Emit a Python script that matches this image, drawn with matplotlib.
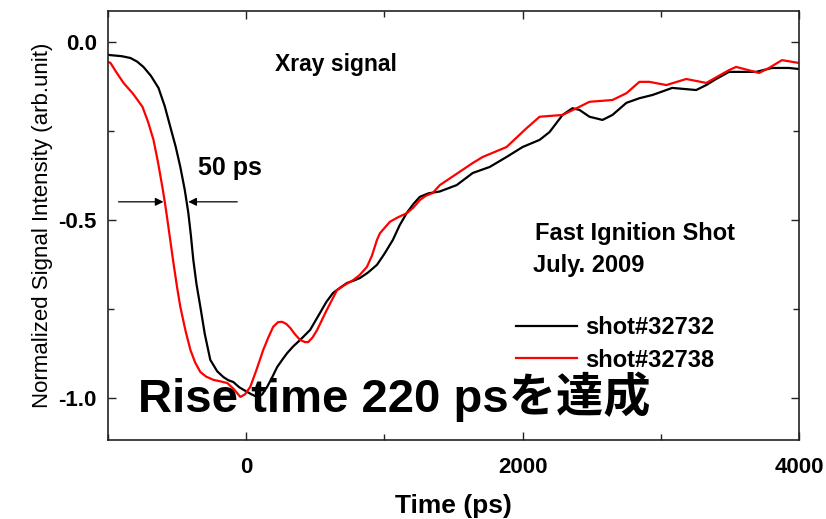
import matplotlib
matplotlib.use("Agg")
import matplotlib.pyplot as plt
from matplotlib.ticker import MultipleLocator

# shot#32732 (black)
t_32732 = [-1000, -982, -900, -838, -790, -744, -690, -635, -590, -549, -510, -477,
           -445, -419, -400, -383, -360, -332, -300, -260, -210, -166, -130, -94, -50,
           7, 40, 79, 115, 151, 190, 224, 260, 296, 340, 390, 462, 534, 580, 628, 680,
           729, 780, 823, 880, 946, 1000, 1061, 1110, 1162, 1210, 1256, 1320, 1400,
           1523, 1639, 1762, 1884, 2000, 2123, 2195, 2289, 2361, 2412, 2484, 2578,
           2650, 2751, 2845, 2939, 3083, 3256, 3329, 3400, 3494, 3690, 3805, 3928, 4000]
s_32732 = [-0.036, -0.037, -0.040, -0.045, -0.055, -0.070, -0.095, -0.129, -0.180,
           -0.239, -0.295, -0.351, -0.415, -0.480, -0.545, -0.612, -0.680, -0.744,
           -0.820, -0.893, -0.925, -0.941, -0.950, -0.955, -0.970, -0.983, -0.990,
           -0.997, -0.990, -0.969, -0.940, -0.913, -0.893, -0.874, -0.855, -0.837,
           -0.809, -0.761, -0.730, -0.705, -0.690, -0.677, -0.670, -0.663, -0.648,
           -0.626, -0.595, -0.556, -0.515, -0.480, -0.455, -0.435, -0.425, -0.420,
           -0.402, -0.368, -0.351, -0.323, -0.295, -0.275, -0.253, -0.205, -0.186,
           -0.191, -0.210, -0.219, -0.205, -0.171, -0.158, -0.149, -0.129, -0.135,
           -0.121, -0.104, -0.084, -0.084, -0.073, -0.073, -0.076]

# shot#32738 (red)
t_32738 = [-1000, -982, -940, -888, -820, -751, -710, -671, -640, -607, -585, -563,
           -545, -527, -500, -477, -440, -404, -370, -332, -290, -238, -190, -137, -90,
           -43, -10, 29, 75, 123, 160, 195, 230, 260, 290, 318, 355, 390, 425, 448, 480,
           513, 580, 657, 715, 773, 820, 873, 910, 946, 968, 1040, 1100, 1162, 1210,
           1256, 1300, 1350, 1401, 1639, 1711, 1884, 2029, 2123, 2289, 2412, 2484,
           2650, 2751, 2845, 2917, 3040, 3184, 3329, 3494, 3545, 3711, 3783, 3877, 4000]
s_32738 = [-0.056, -0.059, -0.085, -0.115, -0.145, -0.182, -0.225, -0.275, -0.335,
           -0.407, -0.460, -0.520, -0.570, -0.620, -0.690, -0.744, -0.810, -0.865,
           -0.900, -0.927, -0.940, -0.949, -0.953, -0.958, -0.975, -0.997, -0.990,
           -0.969, -0.920, -0.865, -0.830, -0.800, -0.787, -0.786, -0.792, -0.803,
           -0.822, -0.837, -0.843, -0.843, -0.830, -0.809, -0.755, -0.697, -0.682,
           -0.669, -0.655, -0.632, -0.600, -0.556, -0.537, -0.505, -0.492, -0.481,
           -0.465, -0.444, -0.432, -0.424, -0.402, -0.340, -0.323, -0.295, -0.242,
           -0.210, -0.205, -0.182, -0.168, -0.163, -0.144, -0.112, -0.112, -0.121,
           -0.104, -0.115, -0.079, -0.070, -0.087, -0.073, -0.051, -0.059]

FONT = ['Liberation Sans', 'Noto Sans CJK JP', 'DejaVu Sans']
plt.rcParams['font.family'] = FONT

fig = plt.figure(figsize=(8.26, 5.19), dpi=100)
ax = fig.add_axes([0.1308, 0.1522, 0.8365, 0.8266])

ax.plot(t_32732, s_32732, color='black', lw=1.6, label='shot#32732')
ax.plot(t_32738, s_32738, color='#ff0000', lw=1.6, label='shot#32738')

ax.set_xlim(-1000, 4000)
ax.set_ylim(-1.118, 0.087)
ax.xaxis.set_major_locator(MultipleLocator(2000))
ax.xaxis.set_minor_locator(MultipleLocator(1000))
ax.yaxis.set_major_locator(MultipleLocator(0.5))
ax.yaxis.set_minor_locator(MultipleLocator(0.25))
ax.tick_params(which='both', direction='in', top=True, right=True, width=1.0, color='#222222')
ax.tick_params(which='major', length=6)
ax.tick_params(which='minor', length=4)
ax.tick_params(axis='x', which='major', pad=12)
ax.tick_params(axis='y', which='major', pad=8)
for lab in ax.get_xticklabels() + ax.get_yticklabels():
    lab.set_fontsize(16)
    lab.set_fontweight('bold')
ax.yaxis.set_major_formatter(matplotlib.ticker.FormatStrFormatter('%.1f'))
for sp in ax.spines.values():
    sp.set_linewidth(1.2)
    sp.set_color('#222222')

ax.set_xlabel('Time (ps)', fontsize=19, fontweight='bold', labelpad=12)
ax.set_ylabel('Normalized Signal Intensity (arb.unit)', fontsize=16, labelpad=4)

ax.text(650, -0.081, 'Xray signal', fontsize=16.5, fontweight='bold', ha='center', va='baseline')
ax.text(-347, -0.374, '50 ps', fontsize=18, fontweight='bold', ha='left', va='baseline')
ax.text(2087, -0.556, 'Fast Ignition Shot', fontsize=17, fontweight='bold', va='baseline')
ax.text(2072, -0.646, 'July. 2009', fontsize=17, fontweight='bold', va='baseline')

arr = dict(arrowstyle='-|>', color='black', lw=0.9, mutation_scale=12, shrinkA=0, shrinkB=0)
ax.annotate('', xy=(-599, -0.449), xytext=(-924, -0.449), arrowprops=arr)
ax.annotate('', xy=(-419, -0.449), xytext=(-65, -0.449), arrowprops=arr)

leg = ax.legend(loc='center left', bbox_to_anchor=(0.59, 0.224), frameon=False,
                handlelength=2.6, handletextpad=0.35, labelspacing=0.4,
                borderpad=0, borderaxespad=0, prop={'size': 17, 'weight': 'bold'})

ax.text(-780, -1.039, 'Rise time 220 psを達成', fontsize=34, fontweight='bold',
        ha='left', va='baseline', zorder=5)

fig.savefig('out.png', dpi=100)
